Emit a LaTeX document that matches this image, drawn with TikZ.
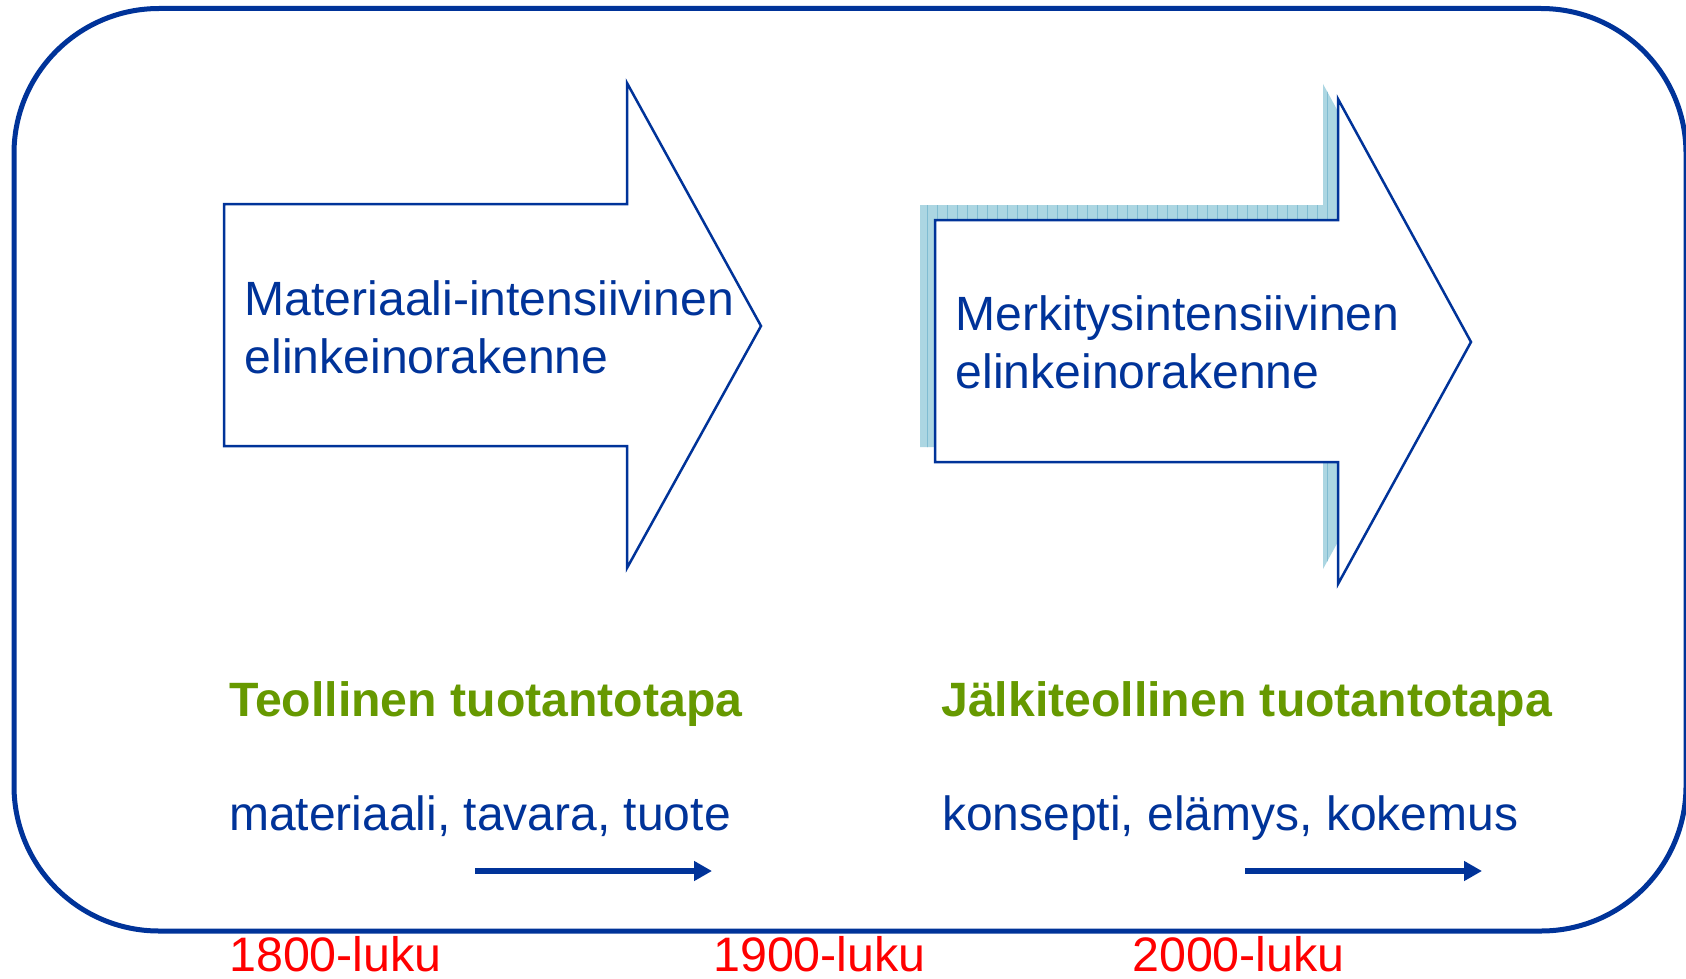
\documentclass[tikz,border=0pt]{standalone}
\usepackage{fontspec}
\setmainfont{Liberation Sans}
\usetikzlibrary{arrows.meta}
\definecolor{dblue}{RGB}{0,51,153}
\definecolor{lgreen}{RGB}{102,153,0}
\definecolor{shadowblue}{RGB}{172,214,226}
\definecolor{stripeblue}{RGB}{128,188,210}
\definecolor{lred}{RGB}{255,0,0}
\tikzset{
  bigarrow/.style={draw=dblue, line width=2.5pt, fill=white, line join=miter},
  arrowtext/.style={anchor=base west, inner sep=0pt, text=dblue, font=\fontsize{48.1}{58}\selectfont},
  headtext/.style={anchor=base west, inner sep=0pt, text=lgreen, font=\fontsize{48.2}{58}\selectfont\bfseries},
  subtext/.style={anchor=base west, inner sep=0pt, text=dblue, font=\fontsize{48.0}{58}\selectfont},
  yeartext/.style={anchor=base west, inner sep=0pt, text=lred, font=\fontsize{48.4}{58}\selectfont},
  smallarrow/.style={draw=dblue, line width=6pt, -{Triangle[length=18pt,width=19pt]}},
}
\begin{document}
\begin{tikzpicture}[x=1pt,y=-1pt]
\useasboundingbox (0,0) rectangle (1686,979);
\fill[white] (0,0) rectangle (1686,979);
\draw[dblue, line width=5pt, rounded corners=145pt] (14,8.5) rectangle (1686,931);

% left arrow
\draw[bigarrow] (224,204) -- (627,204) -- (627,83) -- (761,326) -- (627,568) -- (627,446) -- (224,446) -- cycle;

% right arrow shadow
\begin{scope}[shift={(-15,-15)}]
  \fill[shadowblue] (935,220) -- (1338,220) -- (1338,99) -- (1471,342) -- (1338,584) -- (1338,462) -- (935,462) -- cycle;
  \begin{scope}
    \clip (935,220) -- (1338,220) -- (1338,99) -- (1471,342) -- (1338,584) -- (1338,462) -- (935,462) -- cycle;
    \foreach \x in {942,952,...,1472} \draw[stripeblue, line width=0.7pt] (\x,80) -- (\x,600);
  \end{scope}
\end{scope}
% right arrow
\draw[bigarrow] (935,220) -- (1338,220) -- (1338,99) -- (1471,342) -- (1338,584) -- (1338,462) -- (935,462) -- cycle;

% arrow texts
\node[arrowtext] (m1) at (244.5,315) {Materiaali-intensiivinen};
\node[arrowtext] (m2) at (244.5,373) {elinkeinorakenne};
\node[arrowtext] (k1) at (955.5,330) {Merkitysintensiivinen};
\node[arrowtext] (k2) at (955.5,388) {elinkeinorakenne};

% headings
\node[headtext] (h1) at (229,716) {Teollinen tuotantotapa};
\node[headtext] (h2) at (941,716) {Jälkiteollinen tuotantotapa};

% sub texts
\node[subtext] (s1) at (229,830) {materiaali, tavara, tuote};
\node[subtext] (s2) at (942,830) {konsepti, elämys, kokemus};

% small arrows
\coordinate (a1s) at (475,871);
\coordinate (a1e) at (712,871);
\coordinate (a2s) at (1245,871);
\coordinate (a2e) at (1482,871);
\draw[smallarrow] (a1s) -- (a1e);
\draw[smallarrow] (a2s) -- (a2e);

% years
\node[yeartext] (y1) at (229,971.5) {1800-luku};
\node[yeartext] (y2) at (713,971) {1900-luku};
\node[yeartext] (y3) at (1132,971.5) {2000-luku};
\end{tikzpicture}
\end{document}
